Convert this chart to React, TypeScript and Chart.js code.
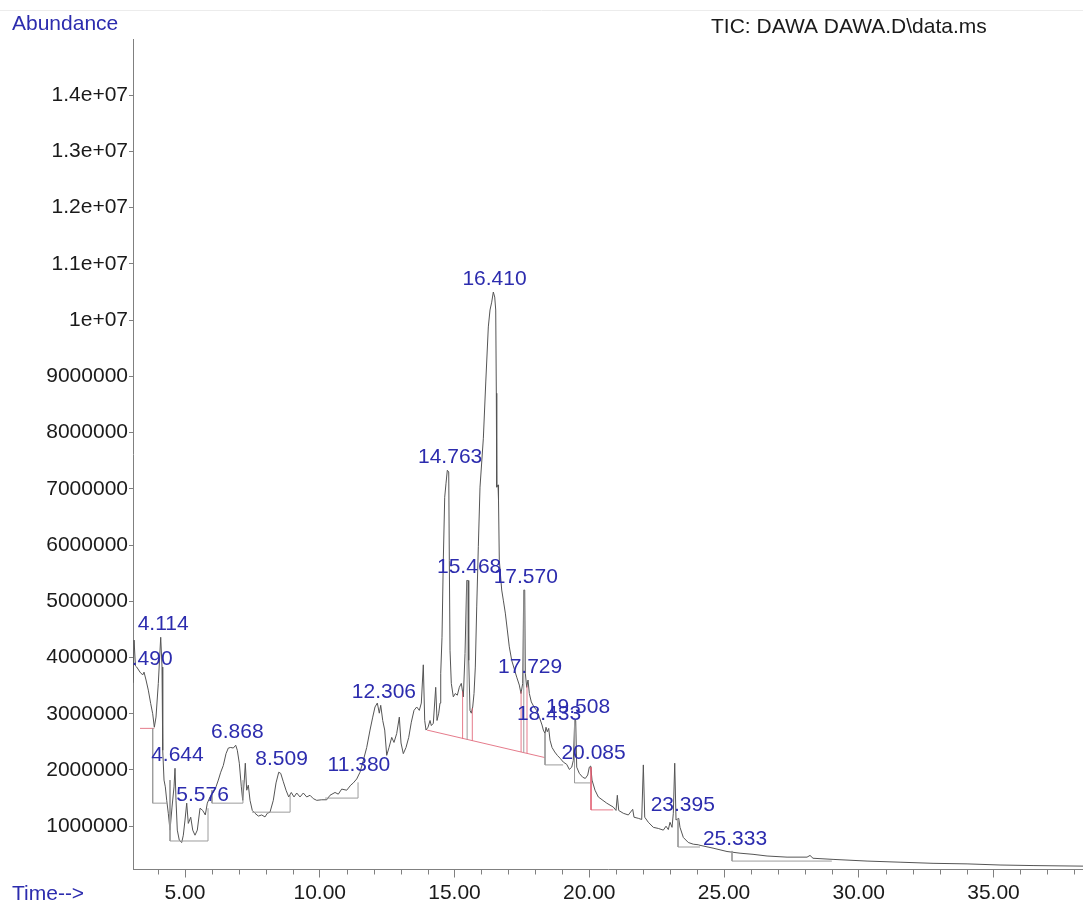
import React, { useEffect, useRef } from 'react';
import { Chart, registerables } from 'chart.js';

Chart.register(...registerables);

// Retention time (min) of each sampled point of the TIC trace
const retentionTimes = [
  3.07, 3.11, 3.16, 3.208, 3.33, 3.43, 3.479, 3.553, 3.638, 3.727, 3.801, 3.861, 3.924, 4.009, 4.098, 4.147,
  4.173, 4.221, 4.269, 4.321, 4.38, 4.443, 4.518, 4.592, 4.629, 4.666, 4.714, 4.788, 4.878, 4.937, 5.0, 5.063,
  5.122, 5.212, 5.286, 5.371, 5.456, 5.557, 5.657, 5.753, 5.827, 5.928, 6.05, 6.15, 6.236, 6.325, 6.421, 6.521,
  6.607, 6.696, 6.792, 6.881, 6.941, 7.015, 7.089, 7.141, 7.2, 7.237, 7.289, 7.349, 7.412, 7.497, 7.597, 7.72,
  7.846, 7.968, 8.054, 8.154, 8.276, 8.377, 8.477, 8.551, 8.648, 8.748, 8.848, 8.944, 9.045, 9.145, 9.267, 9.39,
  9.516, 9.638, 9.761, 9.887, 10.072, 10.258, 10.38, 10.566, 10.688, 10.814, 11.0, 11.148, 11.245, 11.371, 11.494, 11.616,
  11.742, 11.865, 11.965, 12.05, 12.135, 12.21, 12.262, 12.336, 12.41, 12.484, 12.57, 12.67, 12.755, 12.855, 12.952, 13.015,
  13.1, 13.2, 13.301, 13.397, 13.497, 13.597, 13.694, 13.768, 13.842, 13.894, 13.942, 14.017, 14.091, 14.139, 14.213, 14.302,
  14.351, 14.414, 14.462, 14.488, 14.536, 14.584, 14.636, 14.685, 14.733, 14.785, 14.807, 14.833, 14.881, 14.955, 15.03, 15.104,
  15.178, 15.252, 15.327, 15.39, 15.453, 15.501, 15.527, 15.575, 15.623, 15.675, 15.724, 15.772, 15.824, 15.883, 15.946, 16.07,
  16.16, 16.254, 16.317, 16.38, 16.44, 16.492, 16.529, 16.551, 16.566, 16.614, 16.633, 16.662, 16.751, 16.811, 16.885, 16.959,
  17.033, 17.122, 17.208, 17.308, 17.404, 17.467, 17.53, 17.568, 17.605, 17.627, 17.679, 17.727, 17.776, 17.85, 17.95, 18.05,
  18.146, 18.247, 18.295, 18.358, 18.395, 18.443, 18.495, 18.544, 18.618, 18.718, 18.814, 18.915, 19.037, 19.163, 19.26, 19.349,
  19.408, 19.46, 19.497, 19.534, 19.631, 19.757, 19.853, 19.942, 20.002, 20.054, 20.102, 20.213, 20.336, 20.647, 20.892, 20.993,
  21.041, 21.093, 21.263, 21.449, 21.612, 21.66, 21.82, 21.946, 22.006, 22.058, 22.191, 22.377, 22.562, 22.748, 22.848, 22.933,
  22.996, 23.071, 23.119, 23.171, 23.219, 23.319, 23.367, 23.49, 23.675, 23.861, 24.046, 24.109, 24.592, 25.111, 25.594, 26.076,
  26.596, 27.338, 28.08, 28.191, 28.302, 29.045, 30.306, 31.531, 32.755, 34.017, 35.241, 36.466, 38.321,
];

// Total ion current abundance at each retention time
const abundance = [
  3550000, 4310000, 3850000, 3830000, 3740000, 3690000, 3740000, 3600000, 3420000, 3180000, 3000000, 2760000, 2940000, 3540000, 4360000, 3830000,
  2350000, 1820000, 1700000, 1460000, 1230000, 930000, 1340000, 1700000, 2030000, 1460000, 930000, 750000, 710000, 840000, 1110000, 1410000,
  1050000, 1160000, 930000, 840000, 930000, 1320000, 1280000, 1200000, 1410000, 1520000, 1600000, 1700000, 1820000, 1960000, 2080000, 2290000,
  2390000, 2400000, 2390000, 2440000, 2350000, 2120000, 1700000, 1460000, 1820000, 2120000, 1640000, 1730000, 1460000, 1280000, 1230000, 1180000,
  1200000, 1165000, 1230000, 1250000, 1460000, 1770000, 1960000, 1940000, 1790000, 1640000, 1520000, 1600000, 1520000, 1590000, 1520000, 1590000,
  1520000, 1550000, 1490000, 1460000, 1470000, 1470000, 1550000, 1600000, 1570000, 1660000, 1640000, 1730000, 1770000, 1840000, 1960000, 2170000,
  2400000, 2710000, 2940000, 3120000, 3190000, 3010000, 3150000, 2880000, 2710000, 2260000, 2400000, 2580000, 2490000, 2650000, 2940000, 2480000,
  2290000, 2400000, 2580000, 2850000, 3060000, 3120000, 3060000, 3190000, 3870000, 2880000, 2710000, 2760000, 2880000, 2790000, 2830000, 3470000,
  2880000, 3010000, 3190000, 3720000, 4360000, 5730000, 6850000, 7100000, 7330000, 7300000, 5730000, 4130000, 3540000, 3300000, 3360000, 3330000,
  3470000, 3540000, 3300000, 4070000, 5370000, 5370000, 3950000, 3060000, 3010000, 3120000, 3360000, 3830000, 4900000, 5970000, 7030000, 7900000,
  8900000, 9880000, 10180000, 10320000, 10500000, 10410000, 10180000, 8700000, 7030000, 7070000, 6790000, 5730000, 5200000, 5020000, 4790000, 4490000,
  4190000, 3950000, 3810000, 3650000, 3510000, 3360000, 3540000, 5200000, 5200000, 3720000, 3470000, 3600000, 3360000, 3210000, 3120000, 3060000,
  2940000, 2800000, 2710000, 2650000, 2760000, 2680000, 2740000, 2530000, 2400000, 2320000, 2260000, 2210000, 2140000, 2100000, 2010000, 2050000,
  2170000, 2880000, 2880000, 2050000, 1940000, 1870000, 1850000, 1910000, 2050000, 2070000, 1820000, 1640000, 1520000, 1410000, 1340000, 1280000,
  1550000, 1280000, 1230000, 1200000, 1300000, 1160000, 1140000, 1120000, 2090000, 1160000, 1070000, 980000, 960000, 930000, 1000000, 940000,
  1070000, 980000, 1230000, 2120000, 1110000, 1140000, 980000, 800000, 710000, 680000, 670000, 660000, 610000, 550000, 520000, 500000,
  470000, 450000, 450000, 480000, 430000, 410000, 380000, 360000, 340000, 330000, 310000, 300000, 290000,
];

// Integrated peaks (retention time labels)
const peakLabels = [
  '3.490', '4.114', '4.644', '5.576', '6.868', '8.509', '11.380', '12.306', '14.763', '15.468',
  '16.410', '17.570', '17.729', '18.433', '19.508', '20.085', '23.395', '25.333',
];

// Integration baseline segments [t1, v1, t2, v2]
const redBaselineSegments = [
  [3.33, 2740000, 3.86, 2740000],
  [13.98, 2710000, 18.358, 2220000],
  [15.3, 2560000, 15.3, 3400000],
  [15.66, 2520000, 15.66, 3100000],
  [17.47, 2320000, 17.47, 3400000],
  [17.69, 2300000, 17.69, 3500000],
  [20.065, 2050000, 20.065, 1290000],
  [20.065, 1290000, 20.89, 1290000],
];
const grayBaselineSegments = [
  [3.8, 2740000, 3.8, 1410000],
  [3.8, 1410000, 4.33, 1410000],
  [4.443, 1820000, 4.443, 737000],
  [4.443, 737000, 5.853, 737000],
  [5.853, 737000, 5.853, 1320000],
  [6.0, 1640000, 6.0, 1410000],
  [6.0, 1410000, 7.15, 1410000],
  [7.15, 1410000, 7.15, 1820000],
  [7.49, 1250000, 8.9, 1250000],
  [8.9, 1250000, 8.9, 1550000],
  [10.2, 1500000, 11.42, 1500000],
  [11.42, 1500000, 11.42, 1780000],
  [15.468, 2540000, 15.468, 5370000],
  [17.57, 2310000, 17.57, 5200000],
  [18.358, 2650000, 18.358, 2090000],
  [18.358, 2090000, 19.03, 2090000],
  [19.453, 2880000, 19.453, 1770000],
  [19.453, 1770000, 20.03, 1770000],
  [23.293, 1110000, 23.293, 630000],
  [23.293, 630000, 24.11, 630000],
  [25.297, 560000, 25.297, 380000],
  [25.297, 380000, 29.0, 380000],
];

const xTickValues = [5, 10, 15, 20, 25, 30, 35];
const xMinorTickValues = [4, 6, 7, 8, 9, 11, 12, 13, 14, 16, 17, 18, 19, 21, 22, 23, 24, 26, 27, 28, 29, 31, 32, 33, 34, 36, 37, 38];
const yTickValues = [
  1000000, 2000000, 3000000, 4000000, 5000000, 6000000, 7000000, 8000000, 9000000,
  10000000, 11000000, 12000000, 13000000, 14000000,
];

const FONT = '"Liberation Sans", Arial, Helvetica, sans-serif';
const BLUE = '#2c2cae';

function segmentsToData(segs: number[][]) {
  const out: any[] = [];
  segs.forEach((s) => {
    out.push({ x: s[0], y: s[1] });
    out.push({ x: s[2], y: s[3] });
    out.push({ x: s[2], y: null });
  });
  return out;
}

function peakValue(t: number) {
  let best = -Infinity;
  for (let i = 0; i < retentionTimes.length; i++) {
    if (Math.abs(retentionTimes[i] - t) <= 0.1) best = Math.max(best, abundance[i]);
  }
  for (let i = 0; i < retentionTimes.length - 1; i++) {
    const a = retentionTimes[i];
    const b = retentionTimes[i + 1];
    if (t >= a && t <= b) {
      const v = abundance[i] + ((abundance[i + 1] - abundance[i]) * (t - a)) / (b - a);
      best = Math.max(best, v);
    }
  }
  return best;
}

const decorPlugin = {
  id: 'decor',
  afterDatasetsDraw(chart: any) {
    const { ctx, chartArea, scales } = chart;
    const xs = scales.x;
    const ys = scales.y;
    // peak labels, clipped to plot area
    ctx.save();
    ctx.beginPath();
    ctx.rect(chartArea.left, 0, chartArea.right - chartArea.left, chartArea.bottom);
    ctx.clip();
    ctx.font = `21px ${FONT}`;
    ctx.fillStyle = BLUE;
    ctx.textAlign = 'center';
    ctx.textBaseline = 'middle';
    peakLabels.forEach((lab) => {
      const t = parseFloat(lab);
      const v = peakValue(t);
      const px = xs.getPixelForValue(t) + 2;
      const py = ys.getPixelForValue(v) - 13;
      ctx.fillText(lab, px, py);
    });
    ctx.restore();
  },
  afterDraw(chart: any) {
    const { ctx, chartArea, scales } = chart;
    const xs = scales.x;
    ctx.save();
    // minor x ticks
    ctx.strokeStyle = '#808080';
    ctx.lineWidth = 1;
    xMinorTickValues.forEach((t) => {
      const px = Math.round(xs.getPixelForValue(t)) + 0.5;
      if (px < chartArea.left || px > chartArea.right) return;
      ctx.beginPath();
      ctx.moveTo(px, chartArea.bottom);
      ctx.lineTo(px, chartArea.bottom + 5);
      ctx.stroke();
    });
    // faint frame line at the top
    ctx.strokeStyle = '#ececec';
    ctx.beginPath();
    ctx.moveTo(0, 10.5);
    ctx.lineTo(chart.width, 10.5);
    ctx.stroke();
    // titles
    ctx.font = `21px ${FONT}`;
    ctx.textAlign = 'left';
    ctx.textBaseline = 'alphabetic';
    ctx.fillStyle = BLUE;
    ctx.fillText('Abundance', 12, 30);
    ctx.fillText('Time-->', 12, 900);
    ctx.fillStyle = '#1a1a1a';
    ctx.fillText('TIC: DAWA DAWA.D\\data.ms', 711, 33);
    ctx.restore();
  },
};

export default function App() {
  const ref = useRef<HTMLCanvasElement | null>(null);

  useEffect(() => {
    if (!ref.current) return;
    const trace = retentionTimes.map((t, i) => ({ x: t, y: abundance[i] }));
    const chart = new Chart(ref.current, {
      type: 'line',
      data: {
        datasets: [
          {
            data: segmentsToData(grayBaselineSegments),
            borderColor: '#9c9c9c',
            borderWidth: 1,
            pointRadius: 0,
            spanGaps: false,
            tension: 0,
          },
          {
            data: segmentsToData(redBaselineSegments),
            borderColor: 'rgba(222,90,110,0.8)',
            borderWidth: 1,
            pointRadius: 0,
            spanGaps: false,
            tension: 0,
          },
          {
            data: trace,
            borderColor: '#555555',
            borderWidth: 1,
            pointRadius: 0,
            tension: 0,
          },
        ],
      },
      options: {
        animation: false,
        responsive: false,
        maintainAspectRatio: false,
        events: [],
        layout: { padding: { top: 39, left: 0, right: 0, bottom: 0 } },
        plugins: { legend: { display: false }, tooltip: { enabled: false } },
        scales: {
          x: {
            type: 'linear',
            min: 3.07,
            max: 38.32,
            afterBuildTicks: (s: any) => {
              s.ticks = xTickValues.map((v) => ({ value: v }));
            },
            afterFit: (s: any) => {
              s.height = 35.5;
            },
            ticks: {
              autoSkip: false,
              maxRotation: 0,
              padding: 3,
              color: '#1a1a1a',
              font: { family: FONT, size: 21 },
              callback: (v: any) => Number(v).toFixed(2),
            },
            grid: { drawOnChartArea: false, tickLength: 8, color: '#808080' },
            border: { color: '#808080', width: 1 },
          },
          y: {
            type: 'linear',
            min: 230000,
            max: 15000000,
            afterBuildTicks: (s: any) => {
              s.ticks = yTickValues.map((v) => ({ value: v }));
            },
            afterFit: (s: any) => {
              s.width = 133;
            },
            ticks: {
              padding: 1,
              color: '#1a1a1a',
              font: { family: FONT, size: 21 },
              callback: (v: any) => {
                const n = Number(v);
                if (n >= 10000000) return `${Number((n / 10000000).toFixed(1))}e+07`;
                return String(n);
              },
            },
            grid: { drawOnChartArea: false, tickLength: 4, color: '#808080' },
            border: { color: '#808080', width: 1 },
          },
        },
      },
      plugins: [decorPlugin],
    });
    return () => chart.destroy();
  }, []);

  return (
    <div style={{ position: 'fixed', left: 0, top: 0, width: 1083, height: 905, background: '#fff' }}>
      <canvas ref={ref} width={1083} height={905} style={{ display: 'block', width: 1083, height: 905 }} />
    </div>
  );
}
